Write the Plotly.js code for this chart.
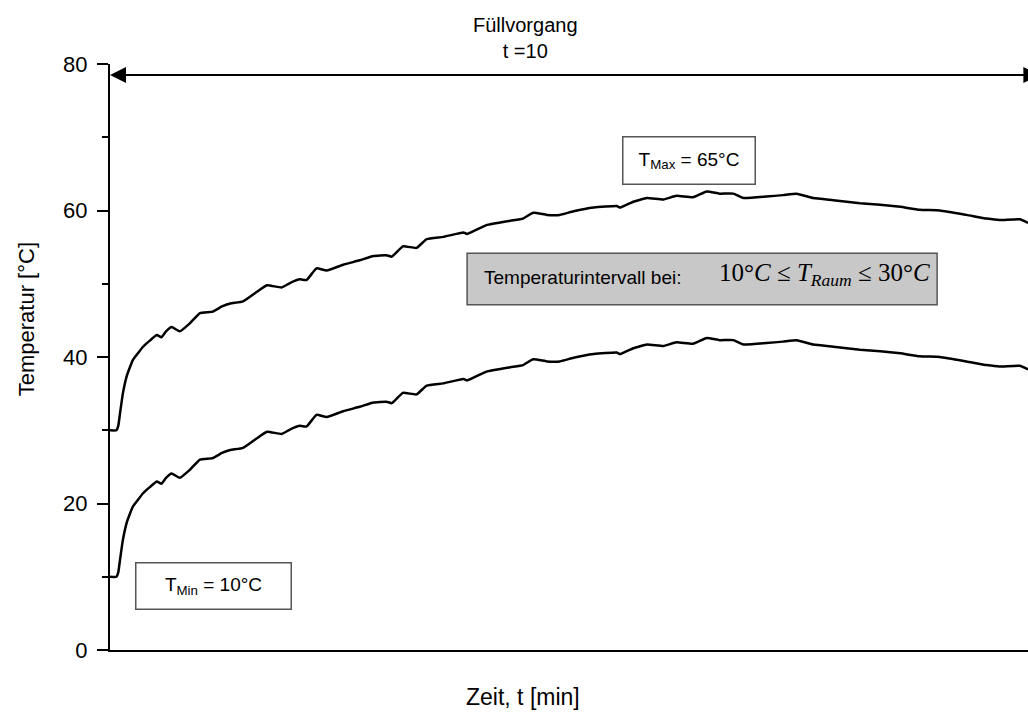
<!DOCTYPE html>
<html>
<head>
<meta charset="utf-8">
<script src="https://cdn.plot.ly/plotly-3.0.1.min.js"></script>
<style>html,body{margin:0;padding:0;background:#fff;}#chart{width:1028px;height:722px;}</style>
</head>
<body>
<div id="chart"></div>
<script>
// Zeit in Minuten
const zeit = [0, 0.07, 0.09, 0.11, 0.14, 0.18, 0.22, 0.25, 0.31, 0.36, 0.44, 0.51, 0.56, 0.61, 0.67, 0.76, 0.87, 0.98, 1.12, 1.22, 1.31, 1.45, 1.60, 1.71, 1.87, 1.96, 2.07, 2.14, 2.25, 2.36, 2.54, 2.72, 2.87, 3.01, 3.07, 3.19, 3.34, 3.45, 3.63, 3.85, 3.89, 4.10, 4.36, 4.50, 4.61, 4.76, 4.90, 5.05, 5.27, 5.52, 5.56, 5.70, 5.85, 6.03, 6.17, 6.35, 6.50, 6.64, 6.79, 6.90, 7.15, 7.33, 7.48, 7.66, 7.88, 8.17, 8.39, 8.61, 8.82, 9.04, 9.33, 9.55, 9.69, 9.91, 10.0];
// obere Kurve (T_Raum = 30 °C)
const tempOben = [30.0, 30.0, 30.6, 32.4, 35.0, 37.3, 38.7, 39.6, 40.6, 41.4, 42.3, 43.0, 42.7, 43.5, 44.1, 43.5, 44.6, 46.0, 46.2, 46.9, 47.3, 47.6, 48.9, 49.8, 49.5, 50.1, 50.6, 50.5, 52.1, 51.8, 52.6, 53.2, 53.8, 53.9, 53.7, 55.1, 54.9, 56.1, 56.4, 57.0, 56.8, 58.0, 58.6, 58.9, 59.7, 59.4, 59.4, 59.9, 60.4, 60.6, 60.4, 61.2, 61.7, 61.5, 62.0, 61.8, 62.6, 62.3, 62.3, 61.7, 61.9, 62.1, 62.3, 61.7, 61.4, 61.0, 60.8, 60.5, 60.1, 60.0, 59.4, 58.9, 58.7, 58.8, 58.3];
// untere Kurve (T_Raum = 10 °C)
const tempUnten = [10.0, 10.0, 10.6, 12.4, 15.0, 17.3, 18.7, 19.6, 20.6, 21.4, 22.3, 23.0, 22.7, 23.5, 24.1, 23.5, 24.6, 26.0, 26.2, 26.9, 27.3, 27.6, 28.9, 29.8, 29.5, 30.1, 30.6, 30.5, 32.1, 31.8, 32.6, 33.2, 33.8, 33.9, 33.7, 35.1, 34.9, 36.1, 36.4, 37.0, 36.8, 38.0, 38.6, 38.9, 39.7, 39.4, 39.4, 39.9, 40.4, 40.6, 40.4, 41.2, 41.7, 41.5, 42.0, 41.8, 42.6, 42.3, 42.3, 41.7, 41.9, 42.1, 42.3, 41.7, 41.4, 41.0, 40.8, 40.5, 40.1, 40.0, 39.4, 38.9, 38.7, 38.8, 38.3];
const yTicks = [0, 20, 40, 60, 80];
const fuellDauer = 10;
const pfeilHoehe = 78.5;

const sans = 'Liberation Sans, Arial, sans-serif';
const serif = 'Liberation Serif, Times New Roman, serif';

const traces = [
  {x: zeit, y: tempOben, type: 'scatter', mode: 'lines', line: {color: '#000', width: 2.5, shape: 'spline', smoothing: 0.4}, hoverinfo: 'skip'},
  {x: zeit, y: tempUnten, type: 'scatter', mode: 'lines', line: {color: '#000', width: 2.5, shape: 'spline', smoothing: 0.4}, hoverinfo: 'skip'}
];

const layout = {
  width: 1028, height: 722,
  margin: {l: 110, r: 0, t: 64, b: 72},
  paper_bgcolor: '#fff', plot_bgcolor: '#fff',
  showlegend: false,
  font: {family: sans, color: '#000'},
  xaxis: {range: [0, fuellDauer], showgrid: false, zeroline: false, showline: true, linecolor: '#000', linewidth: 2,
          ticks: '', showticklabels: false, fixedrange: true},
  yaxis: {range: [0, 80], tickvals: yTicks, ticktext: yTicks.map(String), showgrid: false, zeroline: false,
          showline: true, linecolor: '#000', linewidth: 2, ticks: 'outside', ticklen: 11, tickwidth: 2, tickcolor: '#000',
          tickfont: {size: 22, family: sans}, ticklabelstandoff: 5,
          minor: {dtick: 10, ticks: 'outside', ticklen: 6, tickwidth: 2, tickcolor: '#000'}},
  shapes: [
    {type: 'rect', xref: 'paper', yref: 'paper', x0: 0.389, x1: 0.901, y0: 0.589, y1: 0.677,
     fillcolor: '#c8c8c8', line: {color: '#555', width: 1.5}, layer: 'above'}
  ],
  annotations: [
    {xref: 'x', yref: 'y', x: 0, y: pfeilHoehe, axref: 'x', ayref: 'y', ax: fuellDauer + 0.14, ay: pfeilHoehe,
     text: '', showarrow: true, arrowhead: 2, arrowsize: 1.6, arrowwidth: 2, arrowcolor: '#000', arrowside: 'end+start'},
    {xref: 'paper', yref: 'paper', x: 0.453, y: 1.044, text: 'Füllvorgang<br>t =10', showarrow: false,
     font: {size: 20, family: sans}, xanchor: 'center', yanchor: 'middle'},
    {xref: 'paper', yref: 'paper', x: 0.631, y: 0.836, text: 'T<sub>Max</sub> = 65°C', showarrow: false,
     font: {size: 19, family: sans}, bordercolor: '#555', borderwidth: 1.5, borderpad: 3, bgcolor: '#fff',
     width: 125, height: 40, xanchor: 'center', yanchor: 'middle'},
    {xref: 'paper', yref: 'paper', x: 0.113, y: 0.110, text: 'T<sub>Min</sub> = 10°C', showarrow: false,
     font: {size: 19, family: sans}, bordercolor: '#555', borderwidth: 1.5, borderpad: 3, bgcolor: '#fff',
     width: 148, height: 39, xanchor: 'center', yanchor: 'middle'},
    {xref: 'paper', yref: 'paper', x: 0.405, y: 0.635, text: 'Temperaturintervall bei:', showarrow: false,
     font: {size: 19, family: sans}, xanchor: 'left', yanchor: 'middle'},
    {xref: 'paper', yref: 'paper', x: 0.661, y: 0.640, text: '10°<i>C</i> ≤ <i>T</i><sub><i>Raum</i></sub> ≤ 30°<i>C</i>', showarrow: false,
     font: {size: 25, family: serif}, xanchor: 'left', yanchor: 'middle'},
    {xref: 'paper', yref: 'paper', x: 0.450, y: -0.080, text: 'Zeit, t [min]', showarrow: false,
     font: {size: 23, family: sans}, xanchor: 'center', yanchor: 'middle'},
    {xref: 'paper', yref: 'paper', x: -0.090, y: 0.565, text: 'Temperatur [°C]', showarrow: false, textangle: -90,
     font: {size: 22, family: sans}, xanchor: 'center', yanchor: 'middle'}
  ]
};

Plotly.newPlot('chart', traces, layout, {displayModeBar: false, staticPlot: true});
</script>
</body>
</html>
